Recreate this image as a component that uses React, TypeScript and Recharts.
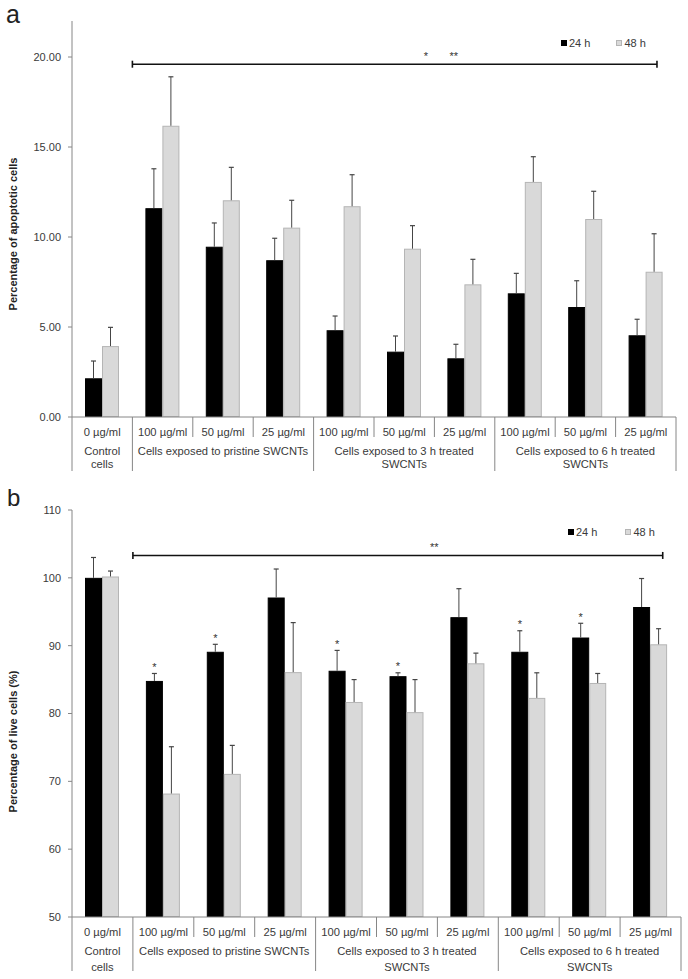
import React from "react";
import { BarChart, Bar, XAxis, YAxis, ReferenceLine, Legend } from "recharts";

const FONT = "'Liberation Sans', Arial, Helvetica, sans-serif";
const AXIS = "#868686";
const TEXT = "#3a3a3a";
const GRAY = "#d9d9d9";
const GRAY_EDGE = "#b5b5b5";

const doses = ["0 µg/ml", "100 µg/ml", "50 µg/ml", "25 µg/ml", "100 µg/ml", "50 µg/ml", "25 µg/ml", "100 µg/ml", "50 µg/ml", "25 µg/ml"];
const groups = [
  { start: 0, span: 1, lines: ["Control", "cells"] },
  { start: 1, span: 3, lines: ["Cells exposed to pristine SWCNTs"] },
  { start: 4, span: 3, lines: ["Cells exposed to 3 h treated", "SWCNTs"] },
  { start: 7, span: 3, lines: ["Cells exposed to 6 h treated", "SWCNTs"] },
];

// a - apoptotic cells (%)
const apoptosis24 = [2.15, 11.6, 9.46, 8.71, 4.82, 3.63, 3.26, 6.87, 6.11, 4.54];
const apoptosis24Err = [0.96, 2.19, 1.32, 1.22, 0.79, 0.87, 0.78, 1.11, 1.46, 0.89];
const apoptosis48 = [3.94, 16.18, 12.04, 10.52, 11.71, 9.35, 7.37, 13.06, 11.0, 8.07];
const apoptosis48Err = [1.04, 2.72, 1.83, 1.52, 1.75, 1.28, 1.39, 1.4, 1.54, 2.11];
const apoptosisTicks = [0, 5, 10, 15, 20];

// b - live cells (%)
const live24 = [100.0, 84.8, 89.1, 97.1, 86.3, 85.5, 94.2, 89.1, 91.2, 95.7];
const live24Err = [3.0, 1.1, 1.1, 4.2, 3.0, 0.5, 4.2, 3.1, 2.1, 4.2];
const live48 = [100.2, 68.2, 71.1, 86.1, 81.7, 80.2, 87.4, 82.3, 84.5, 90.2];
const live48Err = [0.8, 6.9, 4.2, 7.3, 3.3, 4.8, 1.5, 3.7, 1.4, 2.3];
const live24Signif = [false, true, true, false, true, true, false, true, true, false];
const liveTicks = [50, 60, 70, 80, 90, 100, 110];

const Y_AXIS_W = 72;

function buildRows(v24: number[], e24: number[], v48: number[], e48: number[], s24?: boolean[]) {
  return doses.map((d, i) => ({
    key: "c" + i,
    dose: d,
    v24: v24[i],
    e24: e24[i],
    v48: v48[i],
    e48: e48[i],
    s24: s24 ? s24[i] : false,
  }));
}

// bar + one-sided (upper) error bar, scale taken from the bar itself
const barShape = (valKey: string, errKey: string, starKey: string | null, base: number, fill: string, stroke: string) =>
  (props: any) => {
    const { x, y, width, height, payload } = props;
    const val = payload[valKey];
    const pxPerUnit = val - base !== 0 ? height / (val - base) : 0;
    const top = y - payload[errKey] * pxPerUnit;
    const cx = x + width / 2;
    return (
      <g>
        <rect x={x + 0.5} y={y + 0.5} width={width - 1} height={Math.max(height - 1, 0)} fill={fill} stroke={stroke} strokeWidth={1} />
        <line x1={cx} x2={cx} y1={y} y2={top} stroke="#454545" strokeWidth={1} />
        <line x1={cx - 2.5} x2={cx + 2.5} y1={top} y2={top} stroke="#454545" strokeWidth={1.2} />
        {starKey && payload[starKey] ? (
          <text x={cx} y={top - 2.5} textAnchor="middle" fontSize={11} fontFamily={FONT} fill="#333">*</text>
        ) : null}
      </g>
    );
  };

const xTick = (band: number, rowGap: number) => (props: any) => {
  const { x, y, payload } = props;
  const i = payload && payload.index != null ? payload.index : props.index;
  const left = x - band / 2;
  const g = groups.find((gr) => gr.start === i);
  return (
    <g>
      <line x1={left} x2={left} y1={y} y2={y + (g ? 54 : 20)} stroke={AXIS} />
      {i === doses.length - 1 ? <line x1={x + band / 2} x2={x + band / 2} y1={y} y2={y + 54} stroke={AXIS} /> : null}
      <text x={x} y={y + 18.5} textAnchor="middle" fontSize={11.2} fontFamily={FONT} fill={TEXT}>{doses[i]}</text>
      {g
        ? g.lines.map((ln, k) => (
            <text key={k} x={left + (g.span * band) / 2} y={y + 38 + k * rowGap} textAnchor="middle" fontSize={11.2} fontFamily={FONT} fill={TEXT}>
              {ln}
            </text>
          ))
        : null}
    </g>
  );
};

const bracket = (from: number, to: number, stars: { at: number; text: string }[]) => (props: any) => {
  const { x1, x2, y1 } = props;
  const w = x2 - x1;
  const a = x1 + w * from;
  const b = x1 + w * to;
  return (
    <g>
      <line x1={a} x2={b} y1={y1} y2={y1} stroke="#111" strokeWidth={1.6} />
      <line x1={a} x2={a} y1={y1 - 3.5} y2={y1 + 3.5} stroke="#111" strokeWidth={1.6} />
      <line x1={b} x2={b} y1={y1 - 3.5} y2={y1 + 3.5} stroke="#111" strokeWidth={1.6} />
      {stars.map((s, k) => (
        <text key={k} x={x1 + w * s.at} y={y1 - 4} textAnchor="middle" fontSize={11} fontFamily={FONT} fill="#333">
          {s.text}
        </text>
      ))}
    </g>
  );
};

const yTitle = (text: string, shift: number) => (props: any) => {
  const vb = props.viewBox || {};
  const cx = (vb.x || 0) + 13;
  const cy = (vb.y || 0) + (vb.height || 0) / 2 + shift;
  return (
    <text x={cx} y={cy} transform={`rotate(-90 ${cx} ${cy})`} textAnchor="middle" dominantBaseline="central" fontSize={11} fontWeight="bold" fontFamily={FONT} fill="#222">
      {text}
    </text>
  );
};

const legendContent = (gap: number) => () => (
  <div style={{ display: "flex", alignItems: "center", gap, fontFamily: FONT, fontSize: 11, color: TEXT, lineHeight: "12px" }}>
    <span style={{ display: "flex", alignItems: "center" }}>
      <span style={{ width: 6, height: 6, background: "#000", marginRight: 2 }} />
      24 h
    </span>
    <span style={{ display: "flex", alignItems: "center" }}>
      <span style={{ width: 6, height: 6, background: GRAY, border: "1px solid " + GRAY_EDGE, boxSizing: "border-box", marginRight: 2 }} />
      48 h
    </span>
  </div>
);

type PanelProps = {
  height: number;
  margin: { top: number; right: number; bottom: number };
  rows: any[];
  domain: [number, number];
  ticks: number[];
  fmt: (v: number) => string;
  title: string;
  titleShift: number;
  bracketY: number;
  bracketTo: number;
  stars: { at: number; text: string }[];
  legend: { left: number; top: number; gap: number };
  rowGap: number;
};

function Panel(p: PanelProps) {
  const width = 688;
  const plotW = width - Y_AXIS_W - p.margin.right;
  const band = plotW / doses.length;
  const base = p.domain[0];
  return (
    <BarChart
      width={width}
      height={p.height}
      data={p.rows}
      margin={{ top: p.margin.top, right: p.margin.right, left: 0, bottom: p.margin.bottom }}
      barGap={0}
      barSize={17}
    >
      <XAxis dataKey="key" height={60} interval={0} tickLine={false} tickSize={0} tickMargin={0} axisLine={{ stroke: AXIS }} tick={xTick(band, p.rowGap)} />
      <XAxis xAxisId="top" orientation="top" dataKey="key" height={0} tick={false} tickLine={false} axisLine={{ stroke: AXIS }} />
      <YAxis
        width={Y_AXIS_W}
        domain={p.domain}
        ticks={p.ticks}
        interval={0}
        allowDataOverflow
        tickFormatter={p.fmt}
        tickSize={4}
        tickMargin={7}
        tickLine={{ stroke: AXIS }}
        axisLine={{ stroke: AXIS }}
        tick={{ fontSize: 11, fontFamily: FONT, fill: TEXT }}
        label={{ content: yTitle(p.title, p.titleShift) }}
      />
      <YAxis yAxisId="right" orientation="right" width={0} tick={false} tickLine={false} axisLine={{ stroke: AXIS }} />
      <Legend
        layout="horizontal"
        align="center"
        verticalAlign="middle"
        wrapperStyle={{ left: p.legend.left, top: p.legend.top, width: 130 }}
        content={legendContent(p.legend.gap)}
      />
      <ReferenceLine y={p.bracketY} ifOverflow="visible" shape={bracket(0.1, p.bracketTo, p.stars)} />
      <Bar dataKey="v24" fill="#000" isAnimationActive={false} shape={barShape("v24", "e24", "s24", base, "#000", "#000")} />
      <Bar dataKey="v48" fill={GRAY} isAnimationActive={false} shape={barShape("v48", "e48", null, base, GRAY, GRAY_EDGE)} />
    </BarChart>
  );
}

export default function App() {
  const rowsA = buildRows(apoptosis24, apoptosis24Err, apoptosis48, apoptosis48Err);
  const rowsB = buildRows(live24, live24Err, live48, live48Err, live24Signif);
  return (
    <div style={{ position: "absolute", left: 0, top: 0, width: 688, height: 979, background: "#fff" }}>
      <div style={{ position: "absolute", left: 0, top: 0 }}>
        <Panel
          height={480}
          margin={{ top: 21, right: 12, bottom: 3 }}
          rows={rowsA}
          domain={[0, 22]}
          ticks={apoptosisTicks}
          fmt={(v) => v.toFixed(2)}
          title="Percentage of apoptotic cells"
          titleShift={15}
          bracketY={19.6}
          bracketTo={0.9685}
          stars={[{ at: 0.586, text: "*" }, { at: 0.632, text: "**" }]}
          legend={{ left: 561, top: 37, gap: 26 }}
          rowGap={12.8}
        />
      </div>
      <div style={{ position: "absolute", left: 0, top: 480 }}>
        <Panel
          height={499}
          margin={{ top: 30, right: 7, bottom: 2 }}
          rows={rowsB}
          domain={[50, 110]}
          ticks={liveTicks}
          fmt={(v) => String(v)}
          title="Percentage of live cells (%)"
          titleShift={28}
          bracketY={103.3}
          bracketTo={0.97}
          stars={[{ at: 0.595, text: "**" }]}
          legend={{ left: 568, top: 46, gap: 28 }}
          rowGap={15.5}
        />
      </div>
      <svg width={688} height={979} style={{ position: "absolute", left: 0, top: 0, pointerEvents: "none" }}>
        <text x={6} y={23} fontSize={25} fontFamily={FONT} fill="#222">a</text>
        <text x={7} y={506} fontSize={24} fontFamily={FONT} fill="#222">b</text>
      </svg>
    </div>
  );
}
